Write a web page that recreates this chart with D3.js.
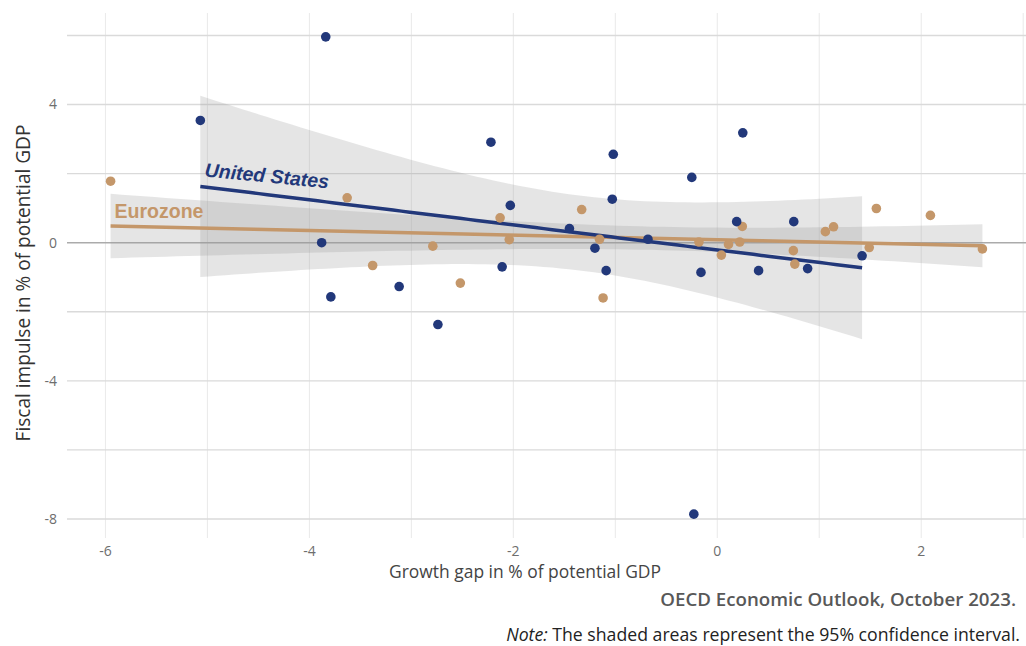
<!DOCTYPE html>
<html>
<head>
<meta charset="utf-8">
<script src="https://cdn.jsdelivr.net/npm/d3@7"></script>
<style>
  body { margin: 0; background: #fff; }
  text { font-family: "Open Sans", "Noto Sans", sans-serif; }
</style>
</head>
<body>
<div id="chart"></div>
<script>
// growth gap (x) vs fiscal impulse (y), % of potential GDP
const usX = [-5.07, -3.84, -3.88, -3.79, -3.12, -2.74, -2.22, -2.11, -2.03, -1.45, -1.20, -1.09,
             -1.03, -1.02, -0.68, -0.25, -0.23, -0.16, 0.19, 0.25, 0.405, 0.75, 0.886, 1.42];
const usY = [3.54, 5.96, 0.00, -1.57, -1.27, -2.37, 2.91, -0.70, 1.08, 0.41, -0.16, -0.81,
             1.26, 2.56, 0.10, 1.89, -7.86, -0.86, 0.61, 3.18, -0.81, 0.61, -0.75, -0.38];

const ezX = [-5.95, -3.63, -3.38, -2.79, -2.52, -2.13, -2.04, -1.33, -1.155, -1.12, -0.18, 0.04,
             0.11, 0.22, 0.245, 0.746, 0.76, 1.06, 1.14, 1.49, 1.56, 2.09, 2.60];
const ezY = [1.78, 1.30, -0.66, -0.10, -1.17, 0.72, 0.09, 0.96, 0.10, -1.60, 0.02, -0.36,
             -0.05, 0.02, 0.47, -0.23, -0.62, 0.32, 0.46, -0.14, 0.99, 0.79, -0.18];

const xMajor = [-6, -4, -2, 0, 2];
const xMinor = [-5, -3, -1, 1, 3];
const yMajor = [4, 0, -4, -8];
const yMinor = [6, 2, -2, -6];

const navy = "#22387a";
const tan = "#c4976a";

const width = 1026, height = 646;

const svg = d3.select("#chart")
    .append("svg")
    .attr("width", width)
    .attr("height", height);

// ggplot-like 5% expansion of the data range
function expand(ext) {
    const pad = (ext[1] - ext[0]) * 0.05;
    return [ext[0] - pad, ext[1] + pad];
}

// scale a text's font size so it spans w pixels
function fitWidth(sel, w) {
    const cur = sel.node().getComputedTextLength();
    const fs = parseFloat(sel.attr("font-size"));
    sel.attr("font-size", (fs * w / cur).toFixed(2) + "px");
}

const x = d3.scaleLinear()
    .domain(expand(d3.extent(usX.concat(ezX))))
    .range([67, 1026]);
const y = d3.scaleLinear()
    .domain(expand(d3.extent(usY.concat(ezY))))
    .range([538, 13]);

// t quantile (0.975) approximation
function tq(df) {
    const z = 1.959964;
    return z + (z ** 3 + z) / (4 * df) + (5 * z ** 5 + 16 * z ** 3 + 3 * z) / (96 * df * df);
}

// OLS fit with 95% confidence band
function fit(xs, ys) {
    const n = xs.length;
    const mx = d3.mean(xs), my = d3.mean(ys);
    let sxx = 0, sxy = 0;
    for (let i = 0; i < n; i++) {
        sxx += (xs[i] - mx) ** 2;
        sxy += (xs[i] - mx) * (ys[i] - my);
    }
    const b = sxy / sxx, a = my - b * mx;
    let sse = 0;
    for (let i = 0; i < n; i++) sse += (ys[i] - a - b * xs[i]) ** 2;
    const s = Math.sqrt(sse / (n - 2));
    const t = tq(n - 2);
    const [x0, x1] = d3.extent(xs);
    return d3.range(80).map(i => {
        const g = x0 + (x1 - x0) * i / 79;
        const yh = a + b * g;
        const se = s * Math.sqrt(1 / n + (g - mx) ** 2 / sxx);
        return { x: g, y: yh, lo: yh - t * se, hi: yh + t * se };
    });
}

// grid
svg.append("g").selectAll("line")
    .data(xMajor.concat(xMinor))
    .join("line")
    .attr("x1", d => x(d)).attr("x2", d => x(d))
    .attr("y1", 13).attr("y2", 538)
    .attr("stroke", "#ebebeb")
    .attr("stroke-width", 1.1);

svg.append("g").selectAll("line")
    .data(yMajor.concat(yMinor))
    .join("line")
    .attr("x1", 67).attr("x2", 1026)
    .attr("y1", d => y(d)).attr("y2", d => y(d))
    .attr("stroke", d => d === 0 ? "#ababab" : "#dadada")
    .attr("stroke-width", 1.4);

// tick labels
svg.append("g").selectAll("text")
    .data(yMajor)
    .join("text")
    .attr("x", 57)
    .attr("y", d => y(d))
    .attr("dy", "0.35em")
    .attr("text-anchor", "end")
    .attr("font-size", "14px")
    .attr("fill", "#6e6e6e")
    .text(d => String(d));

svg.append("g").selectAll("text")
    .data(xMajor)
    .join("text")
    .attr("x", d => x(d))
    .attr("y", 556)
    .attr("text-anchor", "middle")
    .attr("font-size", "14px")
    .attr("fill", "#6e6e6e")
    .text(d => String(d));

const series = [
    { name: "Eurozone", xs: ezX, ys: ezY, color: tan },
    { name: "United States", xs: usX, ys: usY, color: navy }
];
series.forEach(s => { s.fit = fit(s.xs, s.ys); });

const band = d3.area()
    .x(d => x(d.x))
    .y0(d => y(d.lo))
    .y1(d => y(d.hi));
const line = d3.line()
    .x(d => x(d.x))
    .y(d => y(d.y));

svg.append("g").selectAll("path")
    .data(series)
    .join("path")
    .attr("d", s => band(s.fit))
    .attr("fill", "#999")
    .attr("fill-opacity", 0.25);

svg.append("g").selectAll("path")
    .data(series)
    .join("path")
    .attr("d", s => line(s.fit))
    .attr("fill", "none")
    .attr("stroke", s => s.color)
    .attr("stroke-width", 3.5);

series.forEach(s => {
    svg.append("g").selectAll("circle")
        .data(s.xs.map((v, i) => [v, s.ys[i]]))
        .join("circle")
        .attr("cx", d => x(d[0]))
        .attr("cy", d => y(d[1]))
        .attr("r", 4.8)
        .attr("fill", s.color);
});

// direct labels
const ez0 = series[0].fit[0];
svg.append("text")
    .attr("x", x(ez0.x) + 4)
    .attr("y", y(ez0.y) - 8)
    .style("font-family", "'Liberation Sans', Arial, sans-serif")
    .attr("font-weight", "bold")
    .attr("font-size", "19.5px")
    .attr("fill", tan)
    .text("Eurozone");

const us0 = series[1].fit[0];
svg.append("text")
    .attr("transform", `translate(${x(us0.x) + 4},${y(us0.y) - 10}) rotate(5.5)`)
    .style("font-family", "'Liberation Sans', Arial, sans-serif")
    .attr("font-weight", "bold")
    .attr("font-style", "italic")
    .attr("font-size", "19.5px")
    .attr("fill", navy)
    .text("United States");

// axis titles
const yTitle = svg.append("text")
    .attr("transform", "translate(30,283) rotate(-90)")
    .attr("text-anchor", "middle")
    .attr("font-size", "17px")
    .attr("fill", "#333")
    .text("Fiscal impulse in % of potential GDP");
fitWidth(yTitle, 317);

const xTitle = svg.append("text")
    .attr("x", 525)
    .attr("y", 578)
    .attr("text-anchor", "middle")
    .attr("font-size", "15.5px")
    .attr("fill", "#444")
    .text("Growth gap in % of potential GDP");
fitWidth(xTitle, 272);

// caption and note
const caption = svg.append("text")
    .attr("x", 1016)
    .attr("y", 606)
    .attr("text-anchor", "end")
    .attr("font-size", "17px")
    .attr("font-weight", 600)
    .attr("fill", "#585858")
    .text("OECD Economic Outlook, October 2023.");
fitWidth(caption, 356);

const note = svg.append("text")
    .attr("x", 1020)
    .attr("y", 641)
    .attr("text-anchor", "end")
    .attr("font-size", "16px")
    .attr("fill", "#222");
note.append("tspan").attr("font-style", "italic").text("Note:");
note.append("tspan").text(" The shaded areas represent the 95% confidence interval.");
fitWidth(note, 514);
</script>
</body>
</html>
